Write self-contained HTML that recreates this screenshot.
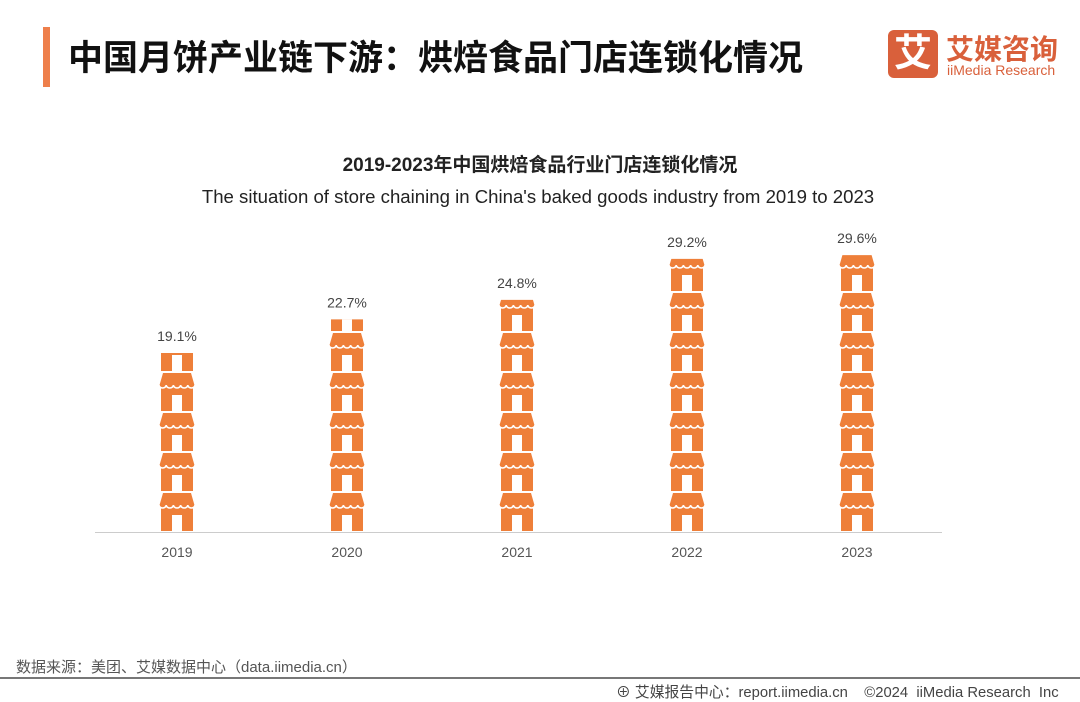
<!DOCTYPE html>
<html><head><meta charset="utf-8"><style>
body{margin:0;width:1080px;height:702px;background:#fff;font-family:"Liberation Sans","Noto Sans CJK SC",sans-serif;overflow:hidden;position:relative}
.t{position:absolute;white-space:nowrap}
</style></head><body>
<div class="t" style="left:43px;top:27px;width:7px;height:60px;background:#ee7f4b"></div>
<div class="t" style="left:68px;top:30px;font-size:35px;font-weight:bold;color:#111">中国月饼产业链下游：烘焙食品门店连锁化情况</div>
<div class="t" style="left:888px;top:30px;width:50px;height:48px;background:#d9603b;border-radius:6px;color:#fff;font-size:38px;font-weight:bold;text-align:center;line-height:48px">艾</div>
<div class="t" style="left:946px;top:28px;font-size:28px;font-weight:bold;color:#d9603b">艾媒咨询</div>
<div class="t" style="left:947px;top:62px;font-size:14px;color:#d9603b">iiMedia Research</div>
<div class="t" style="left:0;width:1080px;text-align:center;top:150px;font-size:19px;font-weight:bold;color:#222">2019-2023年中国烘焙食品行业门店连锁化情况</div>
<div class="t" style="left:0;width:1076px;text-align:center;top:186px;font-size:18.6px;color:#222">The situation of store chaining in China's baked goods industry from 2019 to 2023</div>
<svg id="c" width="1080" height="702" style="position:absolute;left:0;top:0"></svg>
<div class="t" style="left:16px;top:656px;font-size:15px;color:#555">数据来源：美团、艾媒数据中心（data.iimedia.cn）</div>
<div class="t" style="left:0;top:677px;width:1080px;height:2px;background:#777"></div>
<div class="t" style="left:616px;top:681px;font-size:14.8px;color:#444">⊕ 艾媒报告中心：report.iimedia.cn &nbsp;&nbsp; ©2024 &nbsp;iiMedia Research &nbsp;Inc</div>
<script>
const years=["2019","2020","2021","2022","2023"];
const values=[19.1,22.7,24.8,29.2,29.6];
const labels=["19.1%","22.7%","24.8%","29.2%","29.6%"];
const svg=document.getElementById('c');const NS="http://www.w3.org/2000/svg";
const base=531,pxPer=9.32,x0=177,step=170,cell=40;
const y=v=>base-v*pxPer, xc=i=>x0+i*step;
function mk(t,a){const e=document.createElementNS(NS,t);for(const k in a)e.setAttribute(k,a[k]);return e;}
const axis=mk('line',{x1:95,x2:942,y1:532.5,y2:532.5,stroke:'#ccc','stroke-width':1});


svg.appendChild(axis);
const defs=mk('defs',{});svg.appendChild(defs);
years.forEach((yr,i)=>{
 const cx=xc(i),top=y(values[i]);
 const cp=mk('clipPath',{id:'cp'+i});cp.appendChild(mk('rect',{x:cx-30,y:top,width:60,height:base-top}));defs.appendChild(cp);
 const g=mk('g',{'clip-path':'url(#cp'+i+')'});
 
 
 for(let y0=base-38;y0>top-cell;y0-=cell){
  g.appendChild(mk('path',{d:`M${cx-14} ${y0} L${cx+14} ${y0} L${cx+18} ${y0+14} L${cx-18} ${y0+14} Z`,fill:'#ee7f39'}));
  g.appendChild(mk('rect',{x:cx-16,y:y0+14,width:32,height:24,fill:'#ee7f39'}));
  let s=`M${cx-18} ${y0+12} `;for(let k=0;k<5;k++){const sx=cx-18+k*7.2;s+=`A3.6 3 0 0 0 ${sx+7.2} ${y0+12} `;}
  g.appendChild(mk('path',{d:s,fill:'none',stroke:'#fff','stroke-width':1.6}));
  g.appendChild(mk('rect',{x:cx-5,y:y0+22,width:10,height:16,fill:'#fff'}));
 }
 svg.appendChild(g);
 const t=mk('text',{x:cx,y:top-12,'text-anchor':'middle','font-size':14,fill:'#444'});t.textContent=labels[i];
 
 
 svg.appendChild(t);
 const xl=mk('text',{x:cx,y:557,'text-anchor':'middle','font-size':14,fill:'#555'});xl.textContent=yr;
 
 
 svg.appendChild(xl);
});
</script>
</body></html>
